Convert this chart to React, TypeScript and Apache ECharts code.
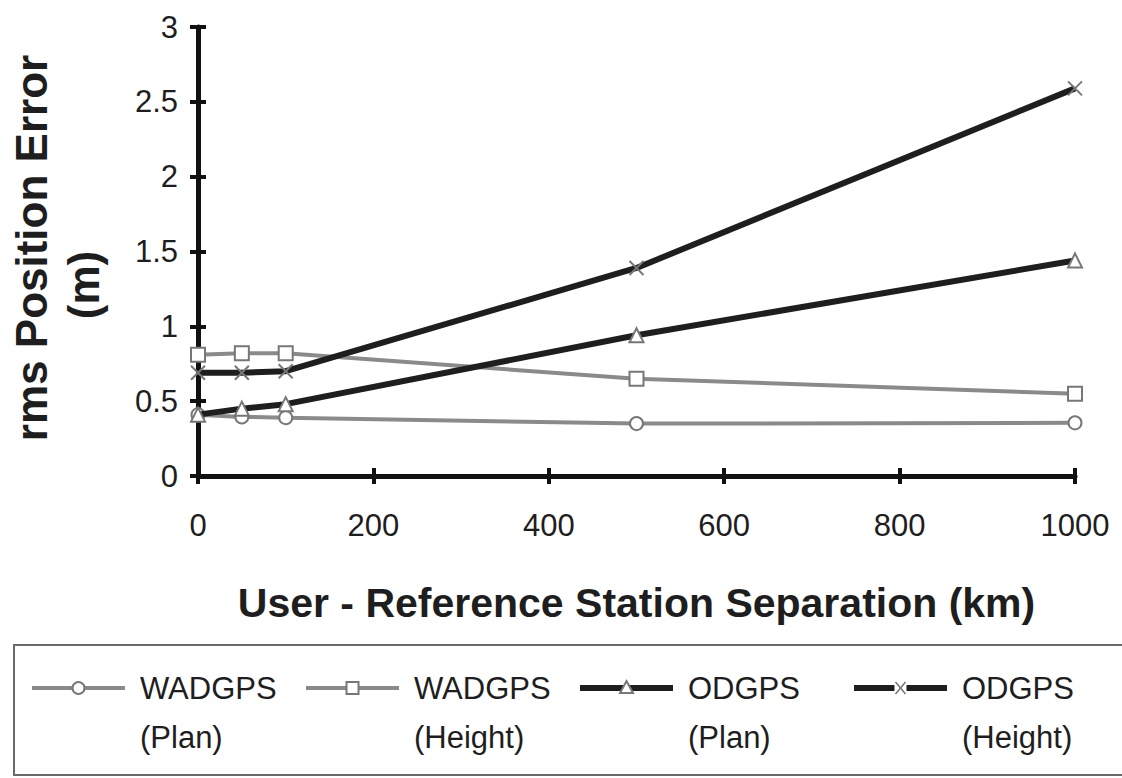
import React, { useEffect, useRef } from "react";
import * as echarts from "echarts";

// Separation between user and reference station (km)
const separationKm = [0, 50, 100, 500, 1000];

// rms position error (m) per method / component
const wadgpsPlan = [0.41, 0.395, 0.39, 0.35, 0.355];
const wadgpsHeight = [0.81, 0.82, 0.82, 0.65, 0.55];
const odgpsPlan = [0.41, 0.45, 0.48, 0.94, 1.44];
const odgpsHeight = [0.69, 0.69, 0.7, 1.39, 2.59];

const legendNames = ["WADGPS", "WADGPS", "ODGPS", "ODGPS"];
const legendSubNames = ["(Plan)", "(Height)", "(Plan)", "(Height)"];

const FONT = '"Liberation Sans", Arial, Helvetica, sans-serif';
const GRAY = "#8a8a8a";
const MARK = "#777777";
const DARK = "#1e1e1e";

const CROSS = "path://M0,0L10,10M10,0L0,10";

const pairs = (ys: number[]) => separationKm.map((x, i) => [x, ys[i]]);

type Kind = "circle" | "rect" | "triangle" | "cross";

function legendMarker(kind: Kind, cx: number, cy: number): any {
  const style = { fill: "#fff", stroke: MARK, lineWidth: 2 };
  if (kind === "circle") return { type: "circle", shape: { cx, cy, r: 6 }, style, z: 10 };
  if (kind === "rect") return { type: "rect", shape: { x: cx - 6, y: cy - 6, width: 12, height: 12 }, style, z: 10 };
  if (kind === "triangle")
    return {
      type: "polygon",
      shape: { points: [[cx, cy - 7], [cx + 6.5, cy + 5], [cx - 6.5, cy + 5]] },
      style,
      z: 10,
    };
  return {
    type: "group",
    z: 10,
    children: [
      { type: "rect", shape: { x: cx - 6, y: cy - 6, width: 12, height: 12 }, style: { fill: "#fff" }, z: 10 },
      { type: "line", shape: { x1: cx - 5, y1: cy - 6, x2: cx + 5, y2: cy + 6 }, style: { stroke: MARK, lineWidth: 1.5 }, z: 11 },
      { type: "line", shape: { x1: cx + 5, y1: cy - 6, x2: cx - 5, y2: cy + 6 }, style: { stroke: MARK, lineWidth: 1.5 }, z: 11 },
    ],
  };
}

export default function App() {
  const ref = useRef<HTMLDivElement>(null);

  useEffect(() => {
    if (!ref.current) return;
    const chart = echarts.init(ref.current, null, { renderer: "svg" });

    const kinds: Kind[] = ["circle", "rect", "triangle", "cross"];
    const lineColors = [GRAY, GRAY, DARK, DARK];
    const lineWidths = [4, 4, 6, 6];
    const legendY = 688;
    const legendGraphics: any[] = [
      {
        type: "rect",
        shape: { x: 14, y: 645, width: 1200, height: 130 },
        style: { fill: "none", stroke: "#6a6a6a", lineWidth: 2 },
      },
    ];
    kinds.forEach((k, i) => {
      const x0 = 32 + i * 274;
      const x1 = x0 + 93;
      legendGraphics.push({
        type: "line",
        shape: { x1: x0, y1: legendY, x2: x1, y2: legendY },
        style: { stroke: lineColors[i], lineWidth: lineWidths[i] },
      });
      legendGraphics.push(legendMarker(k, (x0 + x1) / 2, legendY));
      legendGraphics.push({
        type: "text",
        x: x1 + 15,
        y: legendY,
        style: { text: legendNames[i], font: `31px ${FONT}`, fill: DARK, verticalAlign: "middle" },
      });
      legendGraphics.push({
        type: "text",
        x: x1 + 15,
        y: 737,
        style: { text: legendSubNames[i], font: `31px ${FONT}`, fill: DARK, verticalAlign: "middle" },
      });
    });

    const axisBase = {
      axisLine: { show: true, lineStyle: { color: "#111", width: 5 } },
      splitLine: { show: false },
    };

    chart.setOption({
      animation: false,
      backgroundColor: "#ffffff",
      grid: { left: 198, right: 47, top: 27, bottom: 302 },
      xAxis: [
        {
          ...axisBase,
          type: "value",
          min: 0,
          max: 1000,
          interval: 200,
          axisTick: { show: true, length: 8, lineStyle: { color: "#111", width: 4 } },
          axisLabel: {
            fontSize: 31,
            fontFamily: FONT,
            color: DARK,
            margin: 34,
            formatter: (v: number) => String(v),
          },
          name: "User - Reference Station Separation (km)",
          nameLocation: "middle",
          nameGap: 106,
          nameTextStyle: { fontSize: 41, fontWeight: "bold", fontFamily: FONT, color: DARK },
        },
        {
          type: "value",
          position: "bottom",
          min: 0,
          max: 1000,
          interval: 200,
          axisLine: { show: false },
          axisTick: { show: true, inside: true, length: 8, lineStyle: { color: "#111", width: 4 } },
          axisLabel: { show: false },
          splitLine: { show: false },
        },
      ],
      yAxis: [
        {
          ...axisBase,
          type: "value",
          min: 0,
          max: 3,
          interval: 0.5,
          axisTick: { show: true, length: 8, lineStyle: { color: "#111", width: 4 } },
          axisLabel: { fontSize: 31, fontFamily: FONT, color: DARK, margin: 20 },
        },
        {
          type: "value",
          position: "left",
          min: 0,
          max: 3,
          interval: 0.5,
          axisLine: { show: false },
          axisTick: { show: true, inside: true, length: 8, lineStyle: { color: "#111", width: 4 } },
          axisLabel: { show: false },
          splitLine: { show: false },
        },
      ],
      series: [
        {
          name: "WADGPS (Plan)",
          type: "line",
          data: pairs(wadgpsPlan),
          symbol: "circle",
          symbolSize: 13,
          lineStyle: { color: GRAY, width: 4 },
          itemStyle: { color: "#fff", borderColor: MARK, borderWidth: 2 },
          z: 2,
        },
        {
          name: "WADGPS (Height)",
          type: "line",
          data: pairs(wadgpsHeight),
          symbol: "rect",
          symbolSize: 14,
          lineStyle: { color: GRAY, width: 4 },
          itemStyle: { color: "#fff", borderColor: MARK, borderWidth: 2 },
          z: 2,
        },
        {
          name: "ODGPS (Plan)",
          type: "line",
          data: pairs(odgpsPlan),
          symbol: "triangle",
          symbolSize: 14,
          lineStyle: { color: DARK, width: 6 },
          itemStyle: { color: "#fff", borderColor: MARK, borderWidth: 2 },
          z: 3,
        },
        {
          name: "ODGPS (Height)",
          type: "line",
          data: pairs(odgpsHeight),
          symbol: CROSS,
          symbolSize: 14,
          lineStyle: { color: DARK, width: 6 },
          itemStyle: { color: "#fff", borderColor: MARK, borderWidth: 2 },
          z: 3,
        },
      ],
      graphic: [
        {
          type: "text",
          x: 31,
          y: 248,
          rotation: Math.PI / 2,
          style: {
            text: "rms Position Error",
            font: `bold 44px ${FONT}`,
            fill: DARK,
            align: "center",
            verticalAlign: "middle",
          },
        },
        {
          type: "text",
          x: 83,
          y: 285,
          rotation: Math.PI / 2,
          style: {
            text: "(m)",
            font: `bold 44px ${FONT}`,
            fill: DARK,
            align: "center",
            verticalAlign: "middle",
          },
        },
        ...legendGraphics,
      ],
    });

    return () => chart.dispose();
  }, []);

  return (
    <div
      ref={ref}
      style={{ position: "fixed", left: 0, top: 0, width: 1122, height: 778, background: "#fff" }}
    />
  );
}
